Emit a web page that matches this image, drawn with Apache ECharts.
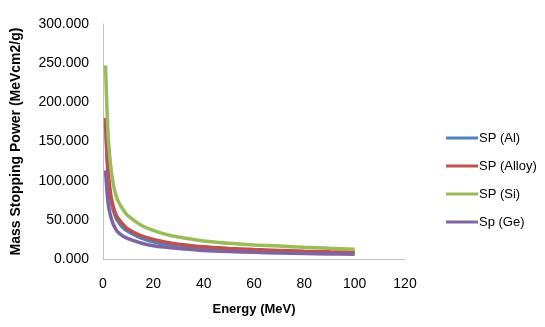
<!DOCTYPE html>
<html>
<head>
<meta charset="utf-8">
<script src="https://cdn.jsdelivr.net/npm/echarts@6/dist/echarts.min.js"></script>
<style>
  html, body { margin: 0; padding: 0; background: #fff; }
  #chart { width: 545px; height: 327px; }
</style>
</head>
<body>
<div id="chart"></div>
<script>
// energies (MeV)
var energy = [1, 2, 3, 4, 5, 6, 8, 10, 15, 20, 25, 30, 40, 50, 60, 70, 80, 90, 100];
var spAl    = [174, 106, 78, 63, 54, 48, 40, 35, 27, 22, 19, 17, 14, 12, 10.8, 9.8, 9, 8.3, 7.7];
var spAlloy = [180, 114, 84, 68, 58, 52, 44, 38, 30, 25, 21.5, 19, 15.5, 13.5, 12, 11, 10, 9.2, 8.5];
var spSi    = [247, 160, 120, 97, 83, 74, 63, 55, 43.5, 36.5, 31.5, 28, 23, 20, 18, 16.5, 15, 13.7, 12.5];
var spGe    = [113, 72, 55, 45, 38.5, 34, 29, 26, 20.5, 17, 15, 13.5, 11, 9.5, 8.5, 7.7, 7, 6.5, 6];

var names = ['SP (Al)', 'SP (Alloy)', 'SP (Si)', 'Sp (Ge)'];
var colors = ['#4F81BD', '#C0504D', '#9BBB59', '#8064A2'];

function pairs(ys) {
  var out = [];
  for (var i = 0; i < energy.length; i++) out.push([energy[i], ys[i]]);
  return out;
}

var chart = echarts.init(document.getElementById('chart'));
var font = 'Liberation Sans';

var series = [spAl, spAlloy, spSi, spGe].map(function (ys, i) {
  return {
    name: names[i],
    type: 'line',
    data: pairs(ys),
    smooth: 0.3,
    showSymbol: false,
    lineStyle: { width: 3.5, color: colors[i] },
    itemStyle: { color: colors[i] }
  };
});

chart.setOption({
  backgroundColor: '#fff',
  animation: false,
  color: colors,
  grid: { left: 103, right: 140, top: 24, bottom: 68 },
  legend: {
    orient: 'vertical',
    left: 441,
    top: 126,
    icon: 'rect',
    itemWidth: 32,
    itemHeight: 3,
    itemGap: 14,
    textStyle: { fontFamily: font, fontSize: 13, color: '#000', lineHeight: 14, padding: [0, 0, 0, -4] },
    data: names
  },
  xAxis: {
    type: 'value',
    min: 0, max: 120, interval: 20,
    name: 'Energy (MeV)',
    nameLocation: 'middle',
    nameGap: 44,
    nameTextStyle: { fontFamily: font, fontSize: 13, fontWeight: 'bold', color: '#000' },
    axisLine: { show: true, lineStyle: { color: '#BFBFBF', width: 1 } },
    axisTick: { show: false },
    splitLine: { show: false },
    axisLabel: { fontFamily: font, fontSize: 14, color: '#000', margin: 18 }
  },
  yAxis: {
    type: 'value',
    min: 0, max: 300, interval: 50,
    name: 'Mass Stopping Power (MeVcm2/g)',
    nameLocation: 'middle',
    nameGap: 80,
    nameTextStyle: { fontFamily: font, fontSize: 14, fontWeight: 'bold', color: '#000' },
    axisLine: { show: true, lineStyle: { color: '#BFBFBF', width: 1 } },
    axisTick: { show: false },
    splitLine: { show: false },
    axisLabel: {
      fontFamily: font, fontSize: 14, color: '#000', margin: 14,
      formatter: function (v) { return v.toFixed(3); }
    }
  },
  series: series
});
</script>
</body>
</html>
